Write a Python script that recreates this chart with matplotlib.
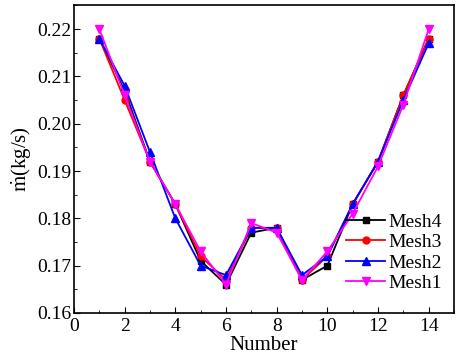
import matplotlib
matplotlib.use("Agg")
import matplotlib.pyplot as plt
from matplotlib.ticker import MultipleLocator

plt.rcParams['font.family'] = 'Liberation Serif'
plt.rcParams['mathtext.fontset'] = 'stix'

number = list(range(1, 15))
mesh4 = [0.218, 0.207, 0.192, 0.183, 0.171, 0.166, 0.177, 0.178, 0.167, 0.170, 0.183, 0.192, 0.206, 0.218]
mesh3 = [0.218, 0.205, 0.192, 0.183, 0.172, 0.167, 0.178, 0.178, 0.167, 0.172, 0.183, 0.192, 0.206, 0.218]
mesh2 = [0.218, 0.208, 0.194, 0.180, 0.170, 0.168, 0.178, 0.178, 0.168, 0.172, 0.183, 0.192, 0.205, 0.217]
mesh1 = [0.220, 0.206, 0.192, 0.183, 0.173, 0.166, 0.179, 0.177, 0.167, 0.173, 0.181, 0.191, 0.204, 0.220]

fig = plt.figure(figsize=(4.59, 3.6), dpi=100)
ax = fig.add_axes([74/459, 47/360, 380/459, 308/360])

ax.plot(number, mesh4, color="black", marker="s", ms=5, lw=1.3, label="Mesh4")
ax.plot(number, mesh3, color="red", marker="o", ms=5, lw=1.3, label="Mesh3")
ax.plot(number, mesh2, color="blue", marker="^", ms=6, lw=1.3, label="Mesh2")
ax.plot(number, mesh1, color="magenta", marker="v", ms=6, lw=1.3, label="Mesh1")

ax.set_xlim(0, 15)
ax.set_ylim(0.16, 0.2251)
ax.xaxis.set_major_locator(MultipleLocator(2))
ax.xaxis.set_minor_locator(MultipleLocator(1))
ax.yaxis.set_major_locator(MultipleLocator(0.01))
ax.yaxis.set_minor_locator(MultipleLocator(0.005))
ax.yaxis.set_major_formatter(matplotlib.ticker.FormatStrFormatter("%.2f"))
ax.tick_params(which="both", direction="in", labelsize=14)
ax.tick_params(which="major", length=4)
ax.tick_params(which="minor", length=2.5)
ax.tick_params(axis="y", pad=2)
for s in ax.spines.values():
    s.set_linewidth(1.2)

ax.set_xlabel("Number", fontsize=15, labelpad=1)
ax.set_ylabel(r"$\dot{\mathrm{m}}$(kg/s)", fontsize=15, labelpad=3)
ax.legend(loc="lower right", bbox_to_anchor=(1.0, 0.03), frameon=False, fontsize=14,
          handlelength=2.0, handletextpad=0.2, labelspacing=0.15, borderaxespad=0.2)

fig.savefig("out.png", dpi=100)
